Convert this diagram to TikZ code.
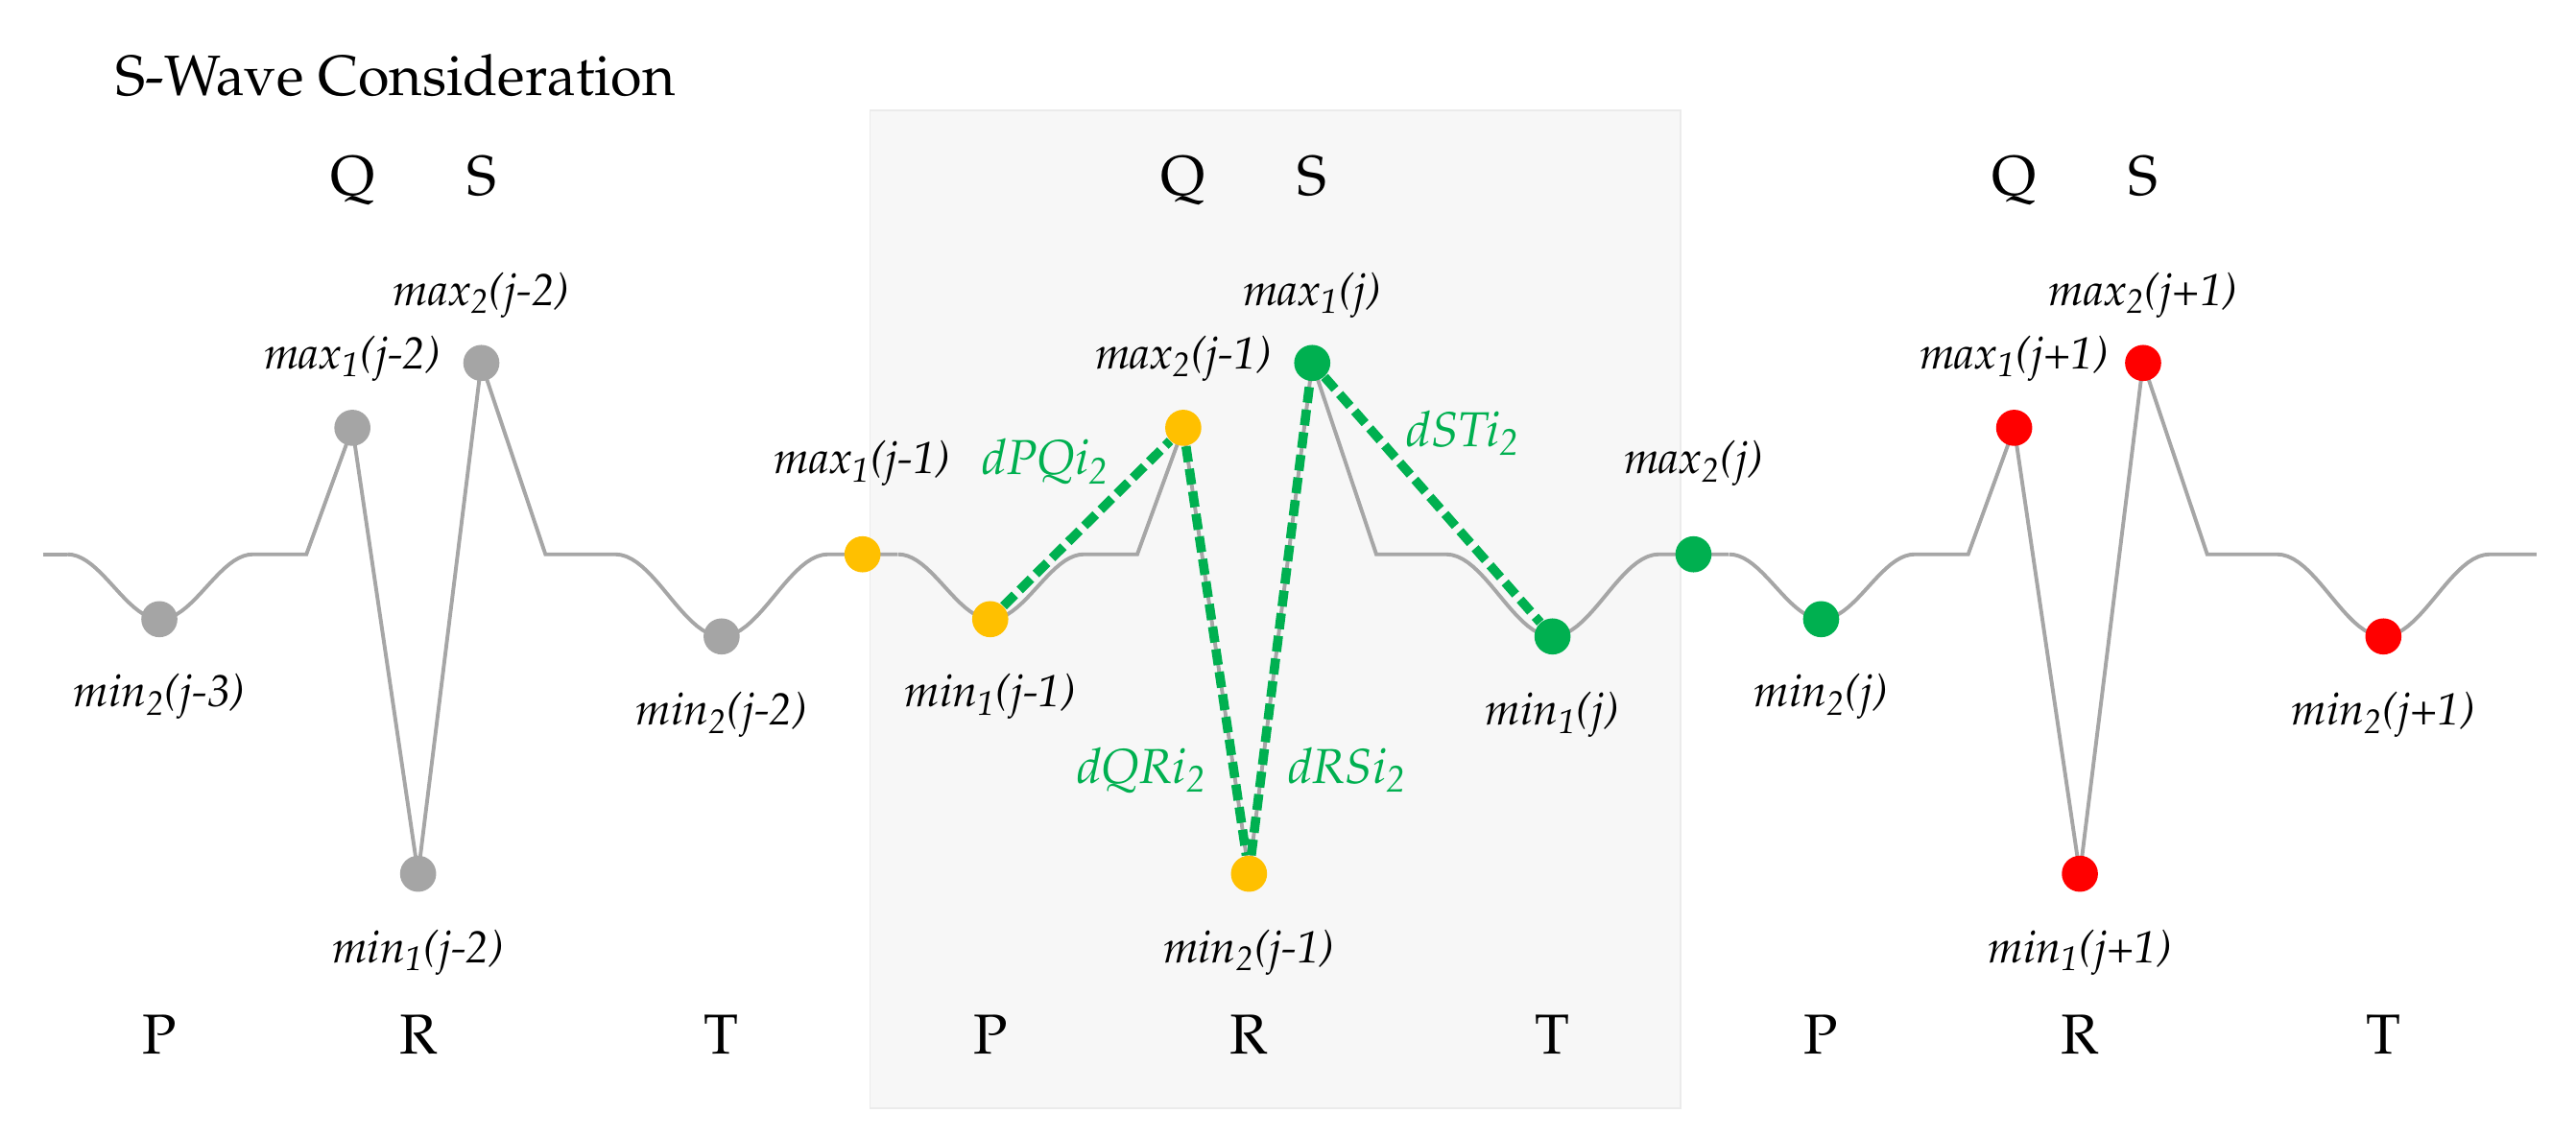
\documentclass[tikz,border=0pt]{standalone}
\usepackage[T1]{fontenc}
\usepackage{mathpazo}
\usepackage{tikz}

\definecolor{wavegray}{HTML}{A6A6A6}
\definecolor{dotgray}{HTML}{A5A5A5}
\definecolor{dotyellow}{HTML}{FFC000}
\definecolor{dotgreen}{HTML}{00B050}
\definecolor{dotred}{HTML}{FF0000}
\definecolor{panel}{HTML}{F7F7F7}
\definecolor{panelline}{HTML}{EBEBEB}

\newcommand{\ext}[3]{\textit{#1}\textsubscript{\textit{#2}}\textit{(j#3)}}
\newcommand{\dist}[1]{\textit{d#1i}\textsubscript{\textit{2}}}

\begin{document}
\begin{tikzpicture}[x=0.02cm, y=-0.02cm,
	peak/.style={circle, inner sep=0pt, minimum size=0.44cm},
	wave/.style={draw=wavegray, line width=1.3pt},
	interval/.style={draw=dotgreen, line width=3.2pt, dash pattern=on 5.5pt off 2.4pt},
	lbl/.style={anchor=base, inner sep=0pt, font=\fontsize{15.6}{18}\selectfont},
	glbl/.style={anchor=base, inner sep=0pt, text=dotgreen, font=\fontsize{17}{20}\selectfont},
	wname/.style={anchor=base, inner sep=0pt, font=\fontsize{19.5}{23}\selectfont}]
	\useasboundingbox (0,0) rectangle (1568,692);
	\draw[fill=panel, draw=panelline, line width=0.6pt] (529.6,67.2) rectangle (1022.8,674.8);
	\node[anchor=base west, inner sep=0pt, font=\fontsize{19.7}{23}\selectfont] (title) at (70,58) {S-Wave Consideration};

	\draw[wave] (26,337.5) -- (41,337.5);
	\foreach \p in {97,602.75,1108.5} {
		\pgfmathsetmacro{\pa}{\p-56}
		\pgfmathsetmacro{\pb}{\p+57}
		\pgfmathsetmacro{\ta}{\p+277.5}
		\pgfmathsetmacro{\tb}{\p+407}
		\pgfmathsetmacro{\ea}{min(\p+449.5,1544)}
		\draw[wave] plot[domain=\pa:\pb, samples=40] (\x,{337.5+19.75*(1-cos(3.1858*(\x-\pa)))})
			-- (\p+89.5,337.5) -- (\p+117.5,260.5) -- (\p+157.5,532) -- (\p+196,221) -- (\p+235,337.5) -- (\ta,337.5)
			-- plot[domain=\ta:\tb, samples=40] (\x,{337.5+25*(1-cos(2.7799*(\x-\ta)))})
			-- (\ea,337.5);
	}

	\foreach \p [count=\i] in {97,602.75,1108.5} {
		\node[wname] (Qn\i) at (\p+117.5,119) {Q};
		\node[wname] (Sn\i) at (\p+196,119) {S};
		\node[wname] (Pn\i) at (\p,641.5) {P};
		\node[wname] (Rn\i) at (\p+157.5,641.5) {R};
		\node[wname] (Tn\i) at (\p+342.25,641.5) {T};
	}

	\node[peak, fill=dotgray] (P1) at (97,377) {};
	\node[peak, fill=dotgray] (Q1) at (214.5,260.5) {};
	\node[peak, fill=dotgray] (R1) at (254.5,532) {};
	\node[peak, fill=dotgray] (S1) at (293,221) {};
	\node[peak, fill=dotgray] (T1) at (439.25,387.5) {};
	\node[peak, fill=dotyellow] (J1) at (525,337.5) {};
	\node[peak, fill=dotyellow] (P2) at (602.75,377) {};
	\node[peak, fill=dotyellow] (Q2) at (720.25,260.5) {};
	\node[peak, fill=dotyellow] (R2) at (760.25,532) {};
	\node[peak, fill=dotgreen] (S2) at (798.75,221) {};
	\node[peak, fill=dotgreen] (T2) at (945,387.5) {};
	\node[peak, fill=dotgreen] (J2) at (1030.8,337.5) {};
	\node[peak, fill=dotgreen] (P3) at (1108.5,377) {};
	\node[peak, fill=dotred] (Q3) at (1226,260.5) {};
	\node[peak, fill=dotred] (R3) at (1266,532) {};
	\node[peak, fill=dotred] (S3) at (1304.5,221) {};
	\node[peak, fill=dotred] (T3) at (1450.75,387.5) {};

	\path[interval] (P2) edge (Q2);
	\path[interval] (Q2) edge (R2);
	\path[interval] (R2) edge (S2);
	\path[interval] (S2) edge (T2);

	\node[lbl] (lP1) at (97,430.5) {\ext{min}{2}{-3}};
	\node[lbl] (lQ1) at (214.5,224.5) {\ext{max}{1}{-2}};
	\node[lbl] (lR1) at (254.5,586) {\ext{min}{1}{-2}};
	\node[lbl] (lS1) at (293,186) {\ext{max}{2}{-2}};
	\node[lbl] (lT1) at (439.25,441.5) {\ext{min}{2}{-2}};
	\node[lbl] (lJ1) at (525,288.5) {\ext{max}{1}{-1}};
	\node[lbl] (lP2) at (602.75,430.5) {\ext{min}{1}{-1}};
	\node[lbl] (lQ2) at (720.25,224.5) {\ext{max}{2}{-1}};
	\node[lbl] (lR2) at (760.25,586) {\ext{min}{2}{-1}};
	\node[lbl] (lS2) at (798.75,186) {\ext{max}{1}{}};
	\node[lbl] (lT2) at (945,441.5) {\ext{min}{1}{}};
	\node[lbl] (lJ2) at (1030.8,288.5) {\ext{max}{2}{}};
	\node[lbl] (lP3) at (1108.5,430.5) {\ext{min}{2}{}};
	\node[lbl] (lQ3) at (1226,224.5) {\ext{max}{1}{+1}};
	\node[lbl] (lR3) at (1266,586) {\ext{min}{1}{+1}};
	\node[lbl] (lS3) at (1304.5,186) {\ext{max}{2}{+1}};
	\node[lbl] (lT3) at (1450.75,441.5) {\ext{min}{2}{+1}};

	\node[glbl] (dpq) at (636.5,289) {\dist{PQ}};
	\node[glbl] (dqr) at (695,476.8) {\dist{QR}};
	\node[glbl] (drs) at (820,476.8) {\dist{RS}};
	\node[glbl] (dst) at (890.6,272) {\dist{ST}};
\end{tikzpicture}
\end{document}
